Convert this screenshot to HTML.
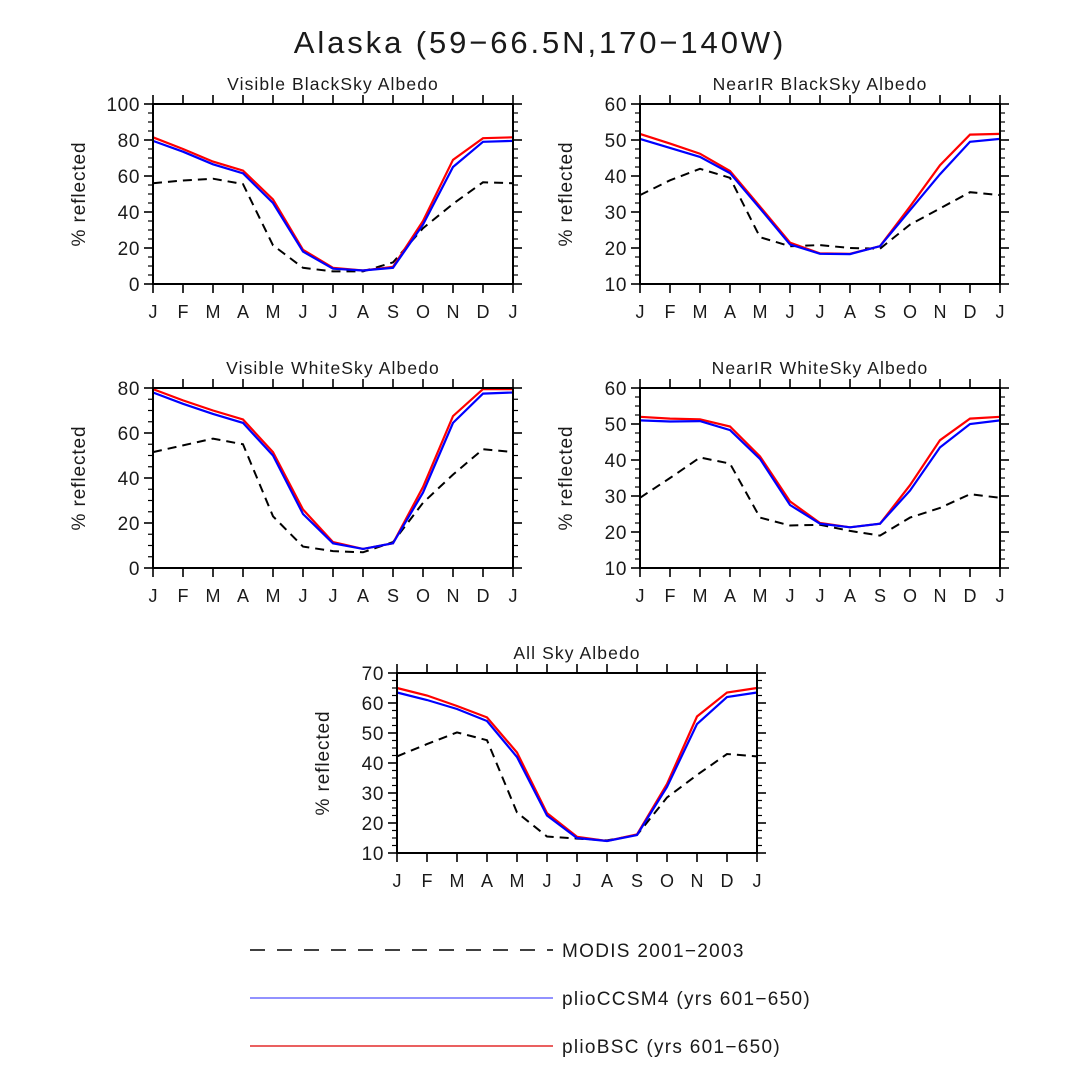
<!DOCTYPE html>
<html><head><meta charset="utf-8"><style>
html,body{margin:0;padding:0;background:#fff;}
svg text{font-family:"Liberation Sans","DejaVu Sans",sans-serif;fill:#1a1a1a;}
</style></head><body>
<svg id="chart" width="1080" height="1080" viewBox="0 0 1080 1080" xmlns="http://www.w3.org/2000/svg">
<rect width="1080" height="1080" fill="#fff"/>
<text x="540" y="53" text-anchor="middle" font-size="31" letter-spacing="2.9">Alaska (59−66.5N,170−140W)</text>
<g id="panels"></g>
<g>
<line x1="250" y1="950" x2="553" y2="950" stroke="#000" stroke-width="1.6" stroke-dasharray="15,12"/>
<text x="562" y="957" font-size="19" letter-spacing="1.3">MODIS 2001−2003</text>
<line x1="250" y1="998" x2="553" y2="998" stroke="#6f6fff" stroke-width="1.6"/>
<text x="562" y="1005" font-size="19" letter-spacing="1.3">plioCCSM4 (yrs 601−650)</text>
<line x1="250" y1="1046" x2="553" y2="1046" stroke="#d00" stroke-width="1.2"/>
<text x="562" y="1053" font-size="19" letter-spacing="1.3">plioBSC (yrs 601−650)</text>
</g>
</svg>
<script>
const months = ["J","F","M","A","M","J","J","A","S","O","N","D","J"];
const titles = ["Visible BlackSky Albedo","NearIR BlackSky Albedo","Visible WhiteSky Albedo","NearIR WhiteSky Albedo","All Sky Albedo"];
const yMins = [0,10,0,10,10];
const yMaxs = [100,60,80,60,70];
const yStep = [20,10,20,10,10];
const redVis = [81.5,75,68,63,47,19,9,7.5,9.5,35,69,81,81.5];
const blueVis = [79.5,73.5,66.5,61.5,45,18,8.5,7.5,9,33,65,79,79.5];
const modisVis = [56,57.5,58.5,55.5,21.5,9,7,7,12,31,44.5,56.5,56];
const redNirB = [51.7,49,46.2,41.4,31.5,21.5,18.5,18.4,20.5,31.5,43,51.5,51.7];
const blueNirB = [50.3,47.8,45.3,40.8,31,21,18.4,18.3,20.5,30.5,40.5,49.5,50.3];
const modisNirB = [34.7,38.8,42,39.5,23,20.5,20.8,20,19.8,26.5,31,35.5,34.7];
const redVisW = [79.5,74.5,70,66,51.5,26,11.5,8.5,11,36,67.5,79.5,79.5];
const blueVisW = [78,73,68.5,64.5,50,24,11,8.5,11,33.5,64.5,77.5,78];
const modisVisW = [51.5,54.5,57.5,55,23,9.5,7.5,7,11.5,29,41.5,52.8,51.5];
const redNirW = [52,51.5,51.3,49.3,41,28.5,22.5,21.3,22.3,33,45.5,51.5,52];
const blueNirW = [51,50.7,50.8,48.3,40.3,27.5,22.3,21.3,22.3,31.5,43.5,50,51];
const modisNirW = [29.5,35,40.7,39,24,21.8,22,20.3,19,24,26.7,30.5,29.5];
const redAll = [65,62.5,59,55.2,43.5,23.3,15.4,14,16.2,33,55.5,63.5,65];
const blueAll = [63.5,61,58,54,42,22.5,15,14,16,32,53,62,63.5];
const modisAll = [42.2,46.3,50.2,47.6,23.5,15.5,14.8,14.2,16,28.5,36,43,42.2];
const redSeries = [redVis,redNirB,redVisW,redNirW,redAll];
const blueSeries = [blueVis,blueNirB,blueVisW,blueNirW,blueAll];
const modisSeries = [modisVis,modisNirB,modisVisW,modisNirW,modisAll];

const layout = [[153,104],[640,104],[153,388],[640,388],[397,673]];
const W=360,H=180,NS="http://www.w3.org/2000/svg";
const root=document.getElementById('panels');
function mk(tag,attrs,parent){const e=document.createElementNS(NS,tag);for(const k in attrs)e.setAttribute(k,attrs[k]);parent.appendChild(e);return e;}
for(let p=0;p<5;p++){
  const [x0,y0]=layout[p];
  const g=mk('g',{},root);
  
  
  const xs=i=>x0+i*W/12;
  const ys=v=>y0+H-(v-yMins[p])/(yMaxs[p]-yMins[p])*H;
  const t=mk('text',{x:x0+W/2,y:y0-14,'text-anchor':'middle','font-size':'17.5','letter-spacing':'1.1'},g);
  t.textContent=titles[p];
  
  
  for(let i=0;i<13;i++){
    const x=xs(i);
    const l1=mk('line',{x1:x,x2:x,y1:y0+H,y2:y0+H+9,stroke:'#000','stroke-width':1.6},g);
    
    
    mk('line',{x1:x,x2:x,y1:y0,y2:y0-9,stroke:'#000','stroke-width':1.6},g);
    const lb=mk('text',{x:x,y:y0+H+34,'text-anchor':'middle','font-size':'18'},g);
    lb.textContent=months[i];
    
    
  }
  const minor=yStep[p]/4;
  for(let v=yMins[p];v<=yMaxs[p]+1e-6;v+=minor){
    const y=ys(v);
    const maj=Math.abs((v-yMins[p])/yStep[p]-Math.round((v-yMins[p])/yStep[p]))<1e-6;
    if(maj){
      mk('line',{x1:x0-9,x2:x0,y1:y,y2:y,stroke:'#000','stroke-width':1.6},g);
      mk('line',{x1:x0+W,x2:x0+W+9,y1:y,y2:y,stroke:'#000','stroke-width':1.6},g);
      const lb=mk('text',{x:x0-13,y:y+7,'text-anchor':'end','font-size':'19','letter-spacing':'0.6'},g);
      lb.textContent=String(Math.round(v));
      
      
    } else {
      mk('line',{x1:x0-5,x2:x0,y1:y,y2:y,stroke:'#000','stroke-width':1.2},g);
      mk('line',{x1:x0+W,x2:x0+W+5,y1:y,y2:y,stroke:'#000','stroke-width':1.2},g);
    }
  }
  const yl=mk('text',{x:0,y:0,'text-anchor':'middle','font-size':'19','letter-spacing':'0.9',transform:`translate(${x0-68},${y0+H/2}) rotate(-90)`},g);
  yl.textContent='% reflected';
  
  
  const pts=a=>a.map((v,i)=>xs(i).toFixed(1)+','+ys(v).toFixed(1)).join(' ');
  const m=mk('polyline',{points:pts(modisSeries[p]),fill:'none',stroke:'#000','stroke-width':2,'stroke-dasharray':'9,6'},g);
  
  
  const r=mk('polyline',{points:pts(redSeries[p]),fill:'none',stroke:'#f00','stroke-width':2.2},g);
  
  
  const b=mk('polyline',{points:pts(blueSeries[p]),fill:'none',stroke:'#00f','stroke-width':2.2},g);
  
  
  const fr=mk('rect',{x:x0,y:y0,width:W,height:H,fill:'none',stroke:'#000','stroke-width':2},g);
  
  
}
</script>
</body></html>
